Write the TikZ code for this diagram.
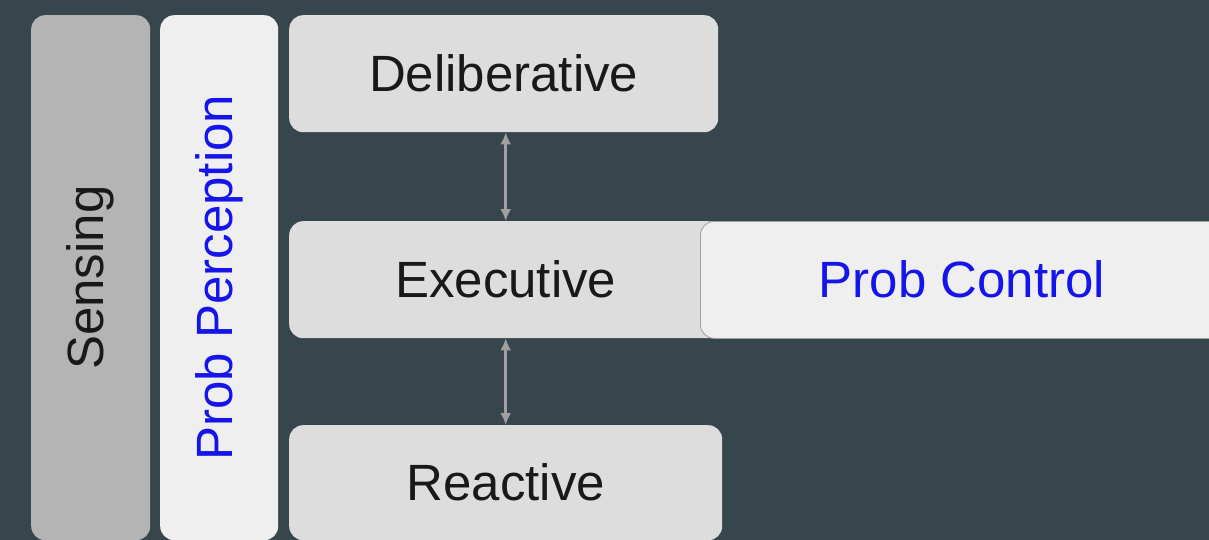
\documentclass[tikz,border=0pt]{standalone}
\usepackage{fontspec}
\setmainfont{Liberation Sans}
\usetikzlibrary{arrows.meta}
\definecolor{bgslate}{RGB}{55,70,77}
\definecolor{layergray}{RGB}{221,221,221}
\definecolor{sensegray}{RGB}{180,180,180}
\definecolor{probfill}{RGB}{239,239,239}
\definecolor{linkgray}{RGB}{160,160,160}
\definecolor{probblue}{RGB}{20,20,235}
\definecolor{inkdark}{RGB}{25,25,25}
\begin{document}
\begin{tikzpicture}[x=1pt,y=-1pt,
  box/.style={anchor=north west,inner sep=0pt,rounded corners=14pt,
    font=\fontsize{51}{60}\selectfont,text=inkdark},
  layer/.style={box,fill=layergray},
  probbox/.style={box,fill=probfill,text=probblue},
  link/.style={draw=linkgray,line width=2.6pt,{Latex[length=12pt,width=11pt]}-{Latex[length=12pt,width=11pt]}}
]
\useasboundingbox (0,0) rectangle (1209,540);
\fill[bgslate] (0,0) rectangle (1209,540);

% vertical side columns
\node[box,fill=sensegray,minimum width=119pt,minimum height=525pt] (sensing) at (31,15) {};
\node[rotate=90,font=\fontsize{51}{60}\selectfont,text=inkdark] (senselbl) at (sensing.center) {Sensing};
\node[probbox,minimum width=118pt,minimum height=525pt] (perception) at (160,15) {};
\node[rotate=90,font=\fontsize{51}{60}\selectfont,text=probblue] (perclbl) at (perception.center) {Prob Perception};

% layered architecture
\node[layer,minimum width=429pt,minimum height=117pt] (delib) at (289,15) {Deliberative};
\node[layer,minimum width=433pt,minimum height=117pt] (exec) at (289,221) {Executive};
\node[layer,minimum width=433pt,minimum height=115pt] (react) at (289,425) {Reactive};
\node[probbox,draw=linkgray,line width=0.8pt,minimum width=530pt,minimum height=117pt] (control) at (700,221) {};
\node[font=\fontsize{51}{60}\selectfont,text=probblue] (ctrllbl) at (962,279.5) {Prob Control};

% links between layers
\draw[link] (delib.south -| exec.north) -- (exec.north);
\draw[link] (exec.south) -- (react.north -| exec.south);
\end{tikzpicture}
\end{document}
